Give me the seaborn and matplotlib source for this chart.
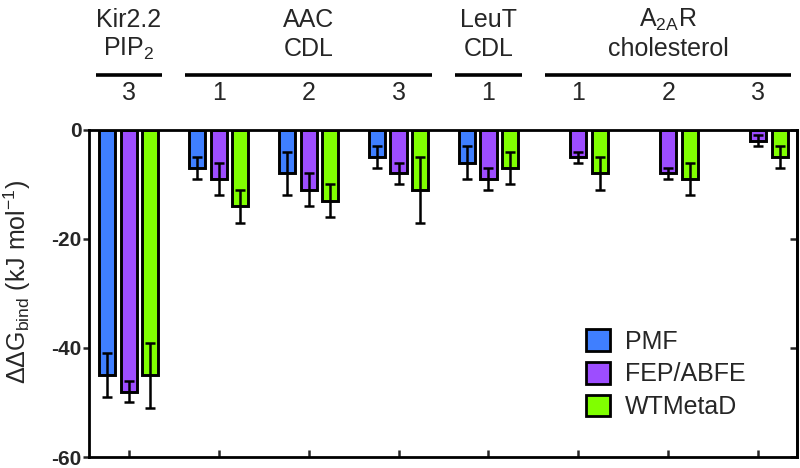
import numpy as np
import pandas as pd
import matplotlib
matplotlib.use("Agg")
import matplotlib.pyplot as plt
import seaborn as sns
from matplotlib.patches import Patch
from matplotlib.transforms import blended_transform_factory

# binding sites (one category per site) and the labels printed above them
site_keys = ["Kir-3", "AAC-1", "AAC-2", "AAC-3", "LeuT-1", "A2AR-1", "A2AR-2", "A2AR-3"]
site_labels = ["3", "1", "2", "3", "1", "1", "2", "3"]

# group headers: protein / lipid and the sites each one covers
group_top = ["Kir2.2", "AAC", "LeuT", "A$_{\\mathrm{2A}}$R"]
group_bottom = ["PIP$_{\\mathrm{2}}$", "CDL", "CDL", "cholesterol"]
group_first = [0, 1, 4, 5]
group_last = [0, 3, 4, 7]

methods = ["PMF", "FEP/ABFE", "WTMetaD"]
colors = ["#3F7FFF", "#9D4DFF", "#80FF00"]

# ddG_bind (kJ/mol) and error (nan = not computed)
pmf = [-45, -7, -8, -5, -6, np.nan, np.nan, np.nan]
pmf_err = [4, 2, 4, 2, 3, np.nan, np.nan, np.nan]
fep = [-48, -9, -11, -8, -9, -5, -8, -2]
fep_err = [2, 3, 3, 2, 2, 1, 1, 1]
wtmetad = [-45, -14, -13, -11, -7, -8, -9, -5]
wtmetad_err = [6, 3, 3, 6, 3, 3, 3, 2]

values = {"PMF": pmf, "FEP/ABFE": fep, "WTMetaD": wtmetad}
errors = {"PMF": pmf_err, "FEP/ABFE": fep_err, "WTMetaD": wtmetad_err}

rows = []
for m in methods:
    for k, v, e in zip(site_keys, values[m], errors[m]):
        rows.append({"site": k, "method": m, "dG": v, "err": e})
df = pd.DataFrame(rows).dropna()

sns.set_style("white")
plt.rcParams["font.family"] = ["Liberation Sans", "DejaVu Sans"]
plt.rcParams["mathtext.fontset"] = "custom"
plt.rcParams["mathtext.rm"] = "Liberation Sans"
plt.rcParams["mathtext.it"] = "Liberation Sans:italic"
plt.rcParams["mathtext.bf"] = "Liberation Sans:bold"
plt.rcParams["axes.unicode_minus"] = False

fig = plt.figure(figsize=(8, 4.68), dpi=100)
ax = fig.add_axes([0.111, 0.0235, 0.885, 0.699])

sns.barplot(data=df, x="site", y="dG", hue="method", order=site_keys,
            hue_order=methods, palette=colors, saturation=1, width=0.72,
            gap=0.25, edgecolor="black", linewidth=2.1, errorbar=None,
            legend=False, ax=ax)

# error bars on top of each bar
for container, m in zip(ax.containers, methods):
    for patch in container:
        xc = patch.get_x() + patch.get_width() / 2
        i = int(round(xc))
        ax.errorbar(xc, values[m][i], yerr=errors[m][i], fmt="none",
                    ecolor="black", elinewidth=1.8, capsize=3.4,
                    capthick=1.8, zorder=5)

ax.set_ylim(-60, 0)
ax.set_xlim(-0.445, 7.43)
ax.set_yticks([0, -20, -40, -60])
ax.set_xticks(range(len(site_keys)))
ax.set_xticklabels(site_labels)
ax.set_xlabel("")

for s in ax.spines.values():
    s.set_visible(True)
    s.set_linewidth(2.0)
    s.set_color("black")

ax.tick_params(axis="x", direction="in", bottom=True, top=False,
               labelbottom=False, labeltop=True, length=5, width=1.8,
               labelsize=18, pad=18)
ax.tick_params(axis="y", direction="out", left=True, length=4, width=1.8,
               labelsize=15, pad=1)
for lab in ax.get_yticklabels():
    lab.set_fontweight("bold")

sec = ax.secondary_yaxis("right")
sec.set_yticks([0, -20, -40, -60])
sec.tick_params(direction="in", length=5, width=1.8, labelright=False)
sec.spines["right"].set_linewidth(2.0)

ax.set_ylabel("ΔΔG$_{\\mathrm{bind}}$ (kJ mol$^{\\mathrm{-1}}$)", fontsize=18)
ax.yaxis.set_label_coords(-0.079, 0.535)

# group headers above the plot
trans = blended_transform_factory(ax.transData, fig.transFigure)
for top, bot, a, b in zip(group_top, group_bottom, group_first, group_last):
    xc = (a + b) / 2
    ax.text(xc, 1 - 27 / 468, top, transform=trans, ha="center",
            va="baseline", fontsize=18)
    ax.text(xc, 1 - 56 / 468, bot, transform=trans, ha="center",
            va="baseline", fontsize=18)
    ax.plot([a - 0.37, b + 0.37], [1 - 75 / 468] * 2, transform=trans,
            color="black", lw=2.6, clip_on=False, solid_capstyle="butt")

handles = [Patch(facecolor=c, edgecolor="black", linewidth=2.0) for c in colors]
ax.legend(handles, methods, loc="upper left", bbox_to_anchor=(0.702, 0.39),
          frameon=False, fontsize=18, handlelength=0.95, handleheight=0.95,
          handletextpad=0.6, labelspacing=0.33, borderpad=0, borderaxespad=0)

fig.savefig("out.png", dpi=100)
plt.close(fig)
